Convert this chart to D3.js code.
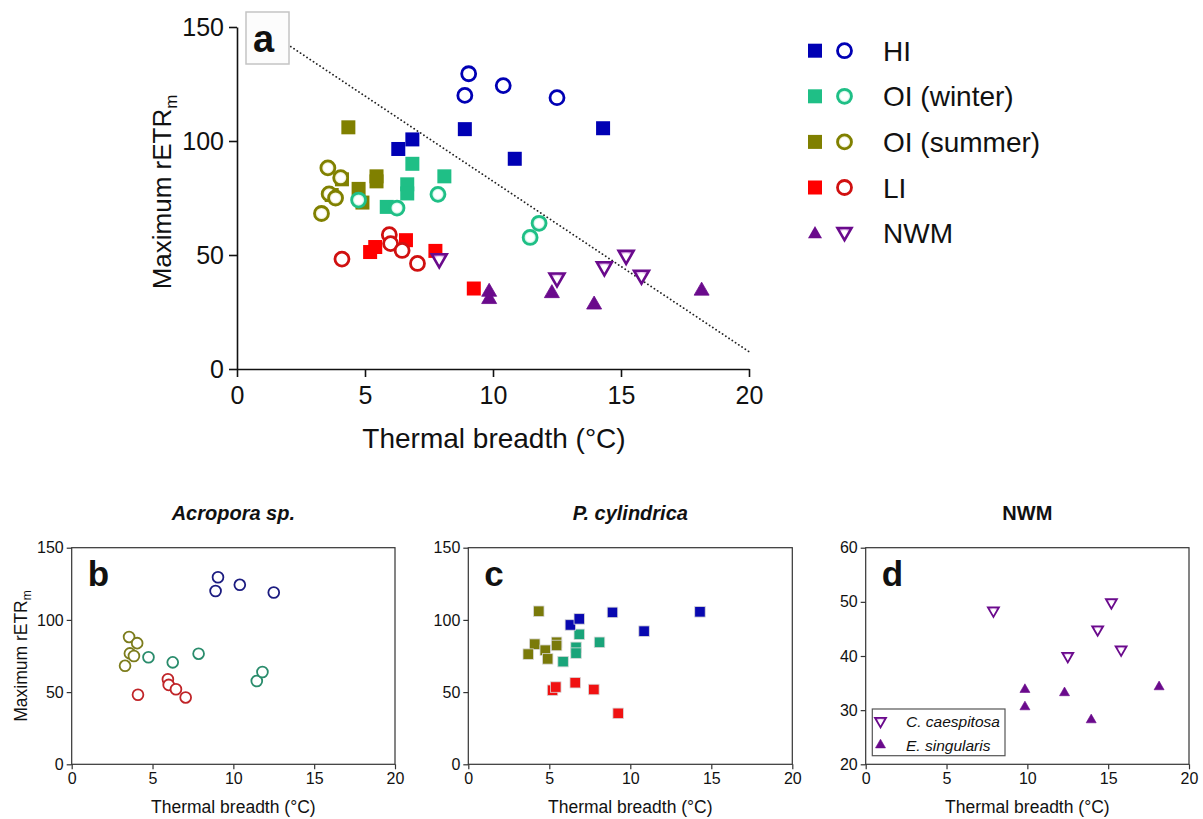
<!DOCTYPE html>
<html><head><meta charset="utf-8">
<script src="https://cdn.jsdelivr.net/npm/d3@7"></script>
<style>
body{margin:0;background:#fff}
text{font-family:"Liberation Sans",Arial,Helvetica,sans-serif;fill:#111}
</style>
</head><body>
<svg id="chart" width="1203" height="819"></svg>
<script>
// ---------- DATA ----------
// P. cylindrica (squares)
const sqHI_x  = [6.3, 6.85, 8.9, 10.85, 14.3];
const sqHI_y  = [96.5, 100.7, 105.2, 92.2, 105.6];
const sqOIw_x = [5.85, 6.65, 6.65, 6.85, 8.1];
const sqOIw_y = [71.1, 81, 77, 90, 84.5];
const sqOIs_x = [4.35, 4.1, 3.7, 4.75, 4.9, 5.45, 5.45];
const sqOIs_y = [106, 83.2, 76.3, 79, 73, 84.5, 82.3];
const sqLI_x  = [5.2, 5.4, 6.6, 7.75, 9.25];
const sqLI_y  = [51.3, 53.5, 56.5, 51.8, 35.3];
// Acropora sp. (circles)
const ciHI_x  = [8.9, 9.05, 10.4, 12.5];
const ciHI_y  = [120, 129.5, 124.3, 119];
const ciOIw_x = [4.75, 6.25, 7.85, 11.45, 11.8];
const ciOIw_y = [74.1, 70.6, 76.6, 57.7, 63.9];
const ciOIs_x = [3.55, 4.05, 3.6, 3.85, 3.3];
const ciOIs_y = [88.2, 83.9, 76.8, 75, 68.2];
const ciLI_x  = [4.1, 5.95, 6.0, 6.45, 7.05];
const ciLI_y  = [48.2, 58.9, 55, 52, 46.3];
// NWM
const ccaes_x = [7.9, 12.5, 14.35, 15.2, 15.8];   // C. caespitosa (down triangles)
const ccaes_y = [48.4, 40, 44.9, 49.9, 41.2];
const esing_x = [9.85, 9.85, 12.3, 13.95, 18.15]; // E. singularis (up triangles)
const esing_y = [33.8, 30.6, 33.2, 28.2, 34.3];
// dotted boundary line in panel a
const line_x = [2.1, 20];
const line_y = [141.4, 7.6];
// ticks / labels
const xTicks = [0, 5, 10, 15, 20];
const yTicksA = [0, 50, 100, 150];
const yTicksD = [20, 30, 40, 50, 60];
const legendLabels = ["HI", "OI (winter)", "OI (summer)", "LI", "NWM"];
const nwmLabels = ["C. caespitosa", "E. singularis"];
const panelTitles = ["Acropora sp.", "P. cylindrica", "NWM"];

const zip = (xs, ys) => xs.map((x, i) => [x, ys[i]]);

const svg = d3.select("#chart");
const defs = svg.append("defs");
function radGrad(id, edge) {
  const g = defs.append("radialGradient").attr("id", id).attr("cx", "50%").attr("cy", "50%").attr("r", "50%");
  g.append("stop").attr("offset", "0%").attr("stop-color", "#ffffff");
  g.append("stop").attr("offset", "55%").attr("stop-color", "#ffffff");
  g.append("stop").attr("offset", "100%").attr("stop-color", edge);
}
radGrad("gOIw", "#7fe8c0");
radGrad("gOIs", "#d8d890");
radGrad("gNWM", "#c77ad9");
radGrad("gNWMs", "#c884da");

const FONT = '"Liberation Sans",Arial,Helvetica,sans-serif';

// ---------- PANEL A ----------
const xA = d3.scaleLinear().domain([0, 20]).range([237, 749]);
const yA = d3.scaleLinear().domain([0, 150]).range([369, 27]);
const gA = svg.append("g");

const axA_x = gA.append("g").attr("transform", `translate(0,${yA(0)})`)
  .call(d3.axisBottom(xA).tickValues(xTicks).tickSize(8).tickSizeOuter(0).tickPadding(9));
const axA_y = gA.append("g").attr("transform", `translate(${xA(0)},0)`)
  .call(d3.axisLeft(yA).tickValues(yTicksA).tickSize(8).tickSizeOuter(0).tickPadding(5));
[axA_x, axA_y].forEach(a => {
  a.selectAll("path,line").attr("stroke", "#111").attr("stroke-width", 1.6);
  a.selectAll("text").style("font-size", "25px").style("font-family", FONT).attr("fill", "#111");
});

gA.append("text").attr("x", (xA(0) + xA(20)) / 2 + 1).attr("y", 448).attr("text-anchor", "middle")
  .style("font-size", "28px").text("Thermal breadth (°C)");
const ytA = gA.append("text").attr("transform", "translate(171,192) rotate(-90)").attr("text-anchor", "middle")
  .style("font-size", "26px");
ytA.append("tspan").text("Maximum rETR");
ytA.append("tspan").attr("dy", 6).style("font-size", "17px").text("m");

// dotted line
gA.append("path").datum(zip(line_x, line_y))
  .attr("d", d3.line().x(d => xA(d[0])).y(d => yA(d[1])))
  .attr("fill", "none").attr("stroke", "#222").attr("stroke-width", 1.8)
  .attr("stroke-dasharray", "0.1,3.8").attr("stroke-linecap", "round");

// label box
gA.append("rect").attr("x", 246).attr("y", 12).attr("width", 43).attr("height", 52)
  .attr("fill", "#fcfcfc").attr("stroke", "#c4c4c4").attr("stroke-width", 1.5);
gA.append("text").attr("x", 253).attr("y", 52).style("font-size", "38px").style("font-weight", "bold").text("a");

const colA = {HI: "#0000b4", OIw: "#1fbf86", OIs: "#808000", LI: "#ff0000", LIc: "#d01010", NWM: "#6a0a8c"};

function squares(g, data, xs, ys, size, color, stroke) {
  g.selectAll(null).data(data).enter().append("rect")
    .attr("x", d => xs(d[0]) - size / 2).attr("y", d => ys(d[1]) - size / 2)
    .attr("width", size).attr("height", size).attr("fill", color)
    .attr("stroke", stroke || "none").attr("stroke-width", stroke ? 0.8 : 0);
}
function circles(g, data, xs, ys, r, color, fill, sw) {
  g.selectAll(null).data(data).enter().append("circle")
    .attr("cx", d => xs(d[0])).attr("cy", d => ys(d[1])).attr("r", r)
    .attr("fill", fill).attr("stroke", color).attr("stroke-width", sw);
}
function triangles(g, data, xs, ys, side, down, color, fill, sw) {
  const area = side * side * Math.sqrt(3) / 4;
  const sym = d3.symbol().type(d3.symbolTriangle).size(area);
  g.selectAll(null).data(data).enter().append("path")
    .attr("d", sym)
    .attr("transform", d => `translate(${xs(d[0])},${ys(d[1])})${down ? " rotate(180)" : ""}`)
    .attr("fill", fill).attr("stroke", color).attr("stroke-width", sw).attr("stroke-linejoin", "miter");
}

const mA = gA.append("g");
squares(mA, zip(sqOIs_x, sqOIs_y), xA, yA, 14, colA.OIs);
squares(mA, zip(sqOIw_x, sqOIw_y), xA, yA, 14, colA.OIw);
squares(mA, zip(sqHI_x, sqHI_y), xA, yA, 14, colA.HI);
squares(mA, zip(sqLI_x, sqLI_y), xA, yA, 14, colA.LI);
circles(mA, zip(ciOIs_x, ciOIs_y), xA, yA, 7, colA.OIs, "url(#gOIs)", 2.8);
circles(mA, zip(ciOIw_x, ciOIw_y), xA, yA, 7, colA.OIw, "url(#gOIw)", 2.8);
circles(mA, zip(ciHI_x, ciHI_y), xA, yA, 7, colA.HI, "#fff", 2.8);
circles(mA, zip(ciLI_x, ciLI_y), xA, yA, 7, colA.LIc, "#fff", 2.8);
triangles(mA, zip(esing_x, esing_y), xA, yA, 15, false, colA.NWM, colA.NWM, 0.8);
triangles(mA, zip(ccaes_x, ccaes_y), xA, yA, 15, true, colA.NWM, "url(#gNWM)", 2.6);

// legend panel A
const legY0 = 50.7, legStep = 45.6;
const lg = gA.append("g");
const legCols = [colA.HI, colA.OIw, colA.OIs, colA.LI, colA.NWM];
const legFills = ["#fff", "url(#gOIw)", "url(#gOIs)", "#fff", "url(#gNWM)"];
const legCircleCols = [colA.HI, colA.OIw, colA.OIs, colA.LIc, colA.NWM];
legendLabels.forEach((lab, i) => {
  const y = legY0 + i * legStep;
  if (i < 4) {
    lg.append("rect").attr("x", 808).attr("y", y - 7).attr("width", 14).attr("height", 14).attr("fill", legCols[i]);
    lg.append("circle").attr("cx", 844.5).attr("cy", y).attr("r", 7).attr("fill", legFills[i])
      .attr("stroke", legCircleCols[i]).attr("stroke-width", 2.8);
  } else {
    const a1 = 14 * 14 * Math.sqrt(3) / 4;
    lg.append("path").attr("d", d3.symbol().type(d3.symbolTriangle).size(a1)())
      .attr("transform", `translate(815,${y + 1})`).attr("fill", colA.NWM);
    lg.append("path").attr("d", d3.symbol().type(d3.symbolTriangle).size(a1)())
      .attr("transform", `translate(844.5,${y - 1}) rotate(180)`).attr("fill", "url(#gNWM)")
      .attr("stroke", colA.NWM).attr("stroke-width", 2.6);
  }
  lg.append("text").attr("x", 883).attr("y", y + 10).style("font-size", "28px").text(lab);
});

// ---------- SMALL PANELS ----------
const yTopS = 547.7, yBotS = 764.3;
function smallPanel(x0, x1, yDomain, yTicks, letter, title, yLabel) {
  const xs = d3.scaleLinear().domain([0, 20]).range([x0, x1]);
  const ys = d3.scaleLinear().domain(yDomain).range([yBotS, yTopS]);
  const g = svg.append("g");
  const ax = g.append("g").attr("transform", `translate(0,${yBotS})`)
    .call(d3.axisBottom(xs).tickValues(xTicks).tickSize(5).tickSizeOuter(0).tickPadding(3));
  const ay = g.append("g").attr("transform", `translate(${x0},0)`)
    .call(d3.axisLeft(ys).tickValues(yTicks).tickSize(5).tickSizeOuter(0).tickPadding(3));
  [ax, ay].forEach(a => {
    a.select(".domain").remove();
    a.selectAll("line").attr("stroke", "#333").attr("stroke-width", 1.2);
    a.selectAll("text").style("font-size", "16px").style("font-family", FONT).attr("fill", "#111");
  });
  g.append("rect").attr("x", x0).attr("y", yTopS).attr("width", x1 - x0).attr("height", yBotS - yTopS)
    .attr("fill", "none").attr("stroke", "#333").attr("stroke-width", 1.2);
  g.append("text").attr("x", (x0 + x1) / 2).attr("y", 520).attr("text-anchor", "middle")
    .style("font-size", "20px").style("font-weight", "bold").style("font-style", title === "NWM" ? "normal" : "italic")
    .text(title);
  g.append("text").attr("x", (x0 + x1) / 2).attr("y", 813).attr("text-anchor", "middle")
    .style("font-size", "17.5px").text("Thermal breadth (°C)");
  g.append("text").attr("x", x0 + 16).attr("y", 586).style("font-size", "35px").style("font-weight", "bold").text(letter);
  if (yLabel) {
    const t = g.append("text").attr("transform", `translate(27,${(yTopS + yBotS) / 2}) rotate(-90)`)
      .attr("text-anchor", "middle").style("font-size", "17.5px");
    t.append("tspan").text("Maximum rETR");
    t.append("tspan").attr("dy", 4).style("font-size", "12px").text("m");
  }
  return {g, xs, ys};
}

const pb = smallPanel(71.7, 395, [0, 150], yTicksA, "b", panelTitles[0], true);
const colB = {HI: "#1c1c80", OIw: "#2a8c6c", OIs: "#7c7c1c", LI: "#c02428"};
circles(pb.g, zip(ciHI_x, ciHI_y), pb.xs, pb.ys, 5.4, colB.HI, "#fff", 1.8);
circles(pb.g, zip(ciOIw_x, ciOIw_y), pb.xs, pb.ys, 5.4, colB.OIw, "#fff", 1.8);
circles(pb.g, zip(ciOIs_x, ciOIs_y), pb.xs, pb.ys, 5.4, colB.OIs, "#fff", 1.8);
circles(pb.g, zip(ciLI_x, ciLI_y), pb.xs, pb.ys, 5.4, colB.LI, "#fff", 1.8);

const pc = smallPanel(468.3, 792.3, [0, 150], yTicksA, "c", panelTitles[1], false);
const colC = {HI: "#0808b0", OIw: "#1aa47a", OIs: "#7a7a0a", LI: "#f01212"};
squares(pc.g, zip(sqOIs_x, sqOIs_y), pc.xs, pc.ys, 10.5, colC.OIs, "#d8d8d8");
squares(pc.g, zip(sqOIw_x, sqOIw_y), pc.xs, pc.ys, 10.5, colC.OIw, "#d8d8d8");
squares(pc.g, zip(sqHI_x, sqHI_y), pc.xs, pc.ys, 10.5, colC.HI, "#d8d8d8");
squares(pc.g, zip(sqLI_x, sqLI_y), pc.xs, pc.ys, 10.5, colC.LI, "#d8d8d8");

const pd = smallPanel(865.7, 1189, [20, 60], yTicksD, "d", panelTitles[2], false);
triangles(pd.g, zip(ccaes_x, ccaes_y), pd.xs, pd.ys, 11, true, "#6a0a8c", "url(#gNWMs)", 1.8);
triangles(pd.g, zip(esing_x, esing_y), pd.xs, pd.ys, 10, false, "#6a0a8c", "#6a0a8c", 0.6);

// legend panel d
const ld = pd.g.append("g");
ld.append("rect").attr("x", 872.3).attr("y", 709).attr("width", 132.7).attr("height", 46.7)
  .attr("fill", "#fff").attr("stroke", "#555").attr("stroke-width", 1.2);
[0, 1].forEach(i => {
  const y = 721 + i * 24;
  const side = i === 0 ? 11 : 10;
  ld.append("path").attr("d", d3.symbol().type(d3.symbolTriangle).size(side * side * Math.sqrt(3) / 4)())
    .attr("transform", `translate(880.5,${y})${i === 0 ? " rotate(180)" : ""}`)
    .attr("fill", i === 0 ? "url(#gNWMs)" : "#6a0a8c").attr("stroke", "#6a0a8c").attr("stroke-width", i === 0 ? 1.8 : 0.6);
  ld.append("text").attr("x", 906).attr("y", y + 5.5).style("font-size", "15.5px").style("font-style", "italic")
    .text(nwmLabels[i]);
});
</script>
</body></html>
